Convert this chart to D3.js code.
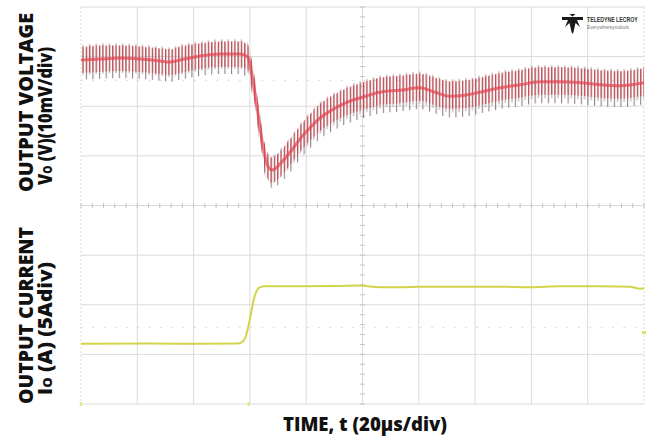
<!DOCTYPE html>
<html><head><meta charset="utf-8">
<script src="https://cdn.jsdelivr.net/npm/d3@7"></script>
<style>html,body{margin:0;padding:0;background:#fff;}svg{display:block;}</style>
</head><body>
<script>
// ---- data (read from the scope shot) ----
// time in µs (20 µs/div, trigger at centre), voltage deviation in mV (10 mV/div), current in A (5 A/div)
const timeV = [-100,-93.3,-86.1,-79.0,-71.9,-68.4,-64.8,-57.7,-50.6,-43.5,-40.7,-39.3,-37.8,-36.4,-35.0,-33.6,-32.1,-30.0,-27.5,-25.0,-22.2,-18.7,-15.1,-11.5,-6.2,0,6.2,13.3,20.4,25.8,31.1,36.4,41.7,48.8,55.9,63.0,70.2,77.3,84.4,91.5,100];
const vMid  = [-0.4,-0.2,0.0,-0.2,-0.6,-0.8,-0.4,0.4,0.8,0.8,0.2,-3.4,-8.5,-14.1,-19.0,-21.8,-22.6,-21.8,-20.2,-18.5,-16.3,-14.1,-12.1,-10.7,-9.1,-7.9,-6.9,-6.5,-6.0,-6.9,-7.7,-7.5,-6.9,-6.0,-5.4,-4.8,-4.8,-5.0,-5.4,-5.6,-5.0];
const vTop  = [2.6,3.0,3.0,2.8,2.4,2.2,2.8,3.4,3.8,3.8,3.0,0.0,-5.5,-11.2,-16.2,-19.0,-19.6,-18.8,-17.2,-15.4,-13.2,-10.9,-8.8,-7.4,-5.8,-4.5,-3.5,-3.1,-2.7,-3.5,-4.3,-4.1,-3.5,-2.6,-2.0,-1.4,-1.4,-1.6,-2.0,-2.2,-1.6];
const vBot  = [-4.4,-4.2,-4.0,-4.2,-4.6,-4.8,-4.4,-3.6,-3.2,-3.2,-4.0,-7.0,-12.0,-17.8,-22.8,-25.6,-26.2,-25.6,-24.2,-22.6,-20.4,-18.3,-16.3,-15.0,-13.4,-12.2,-11.2,-10.8,-10.3,-11.2,-12.0,-11.8,-11.2,-10.3,-9.7,-9.1,-9.1,-9.3,-9.7,-9.9,-9.3];
const timeI = [-100,-75.5,-57.7,-44.2,-42.8,-41.7,-40.7,-39.6,-38.5,-37.5,-36.4,-34.6,-22.2,-8.0,-0.9,6.2,13.3,20.4,34.6,48.8,59.5,70.2,84.4,95.0,98.6,100];
const iOut  = [-0.02,0,-0.03,0,0.13,0.54,1.54,3.04,4.55,5.36,5.67,5.77,5.77,5.80,5.83,5.67,5.67,5.72,5.72,5.72,5.67,5.77,5.77,5.72,5.52,5.57];
const xDivs = d3.range(-5, 6);          // 10 horizontal divisions
const yDivs = d3.range(-4, 5);          // 8 vertical divisions
const vLabel1 = "OUTPUT VOLTAGE", iLabel1 = "OUTPUT CURRENT", xLabel = "TIME, t (20µs/div)";

// ---- layout ----
const W = 650, H = 439;
const L = 81, R = 644, T = 7, B = 404;
const svg = d3.select("body").append("svg").attr("width", W).attr("height", H);
svg.append("rect").attr("width", W).attr("height", H).attr("fill", "#fff");

const x = d3.scaleLinear().domain([-100, 100]).range([L, R]);
const yDiv = d3.scaleLinear().domain([-4, 4]).range([B, T]);
const yV = d3.scaleLinear().domain([-69.8, 10.3]).range([B, T]);
const yI = d3.scaleLinear().domain([-6.1, 33.9]).range([B, T]);

const defs = svg.append("defs");
function hatch(id, w, off, lw, col) {
  const p = defs.append("pattern").attr("id", id).attr("patternUnits", "userSpaceOnUse")
    .attr("width", w).attr("height", 8);
  p.append("rect").attr("x", off).attr("width", lw).attr("height", 8).attr("fill", col);
}
hatch("spkOuter", 6.6, 0, 1.1, "#75646a");
hatch("spkOuter2", 6.6, 3.3, 1.0, "#8e7a80");
hatch("spkMid", 3.3, 0, 1.2, "#c8464f");
defs.append("filter").attr("id", "blur").append("feGaussianBlur").attr("stdDeviation", 0.5);

// ---- grid ----
const g = svg.append("g");
g.selectAll(".vx").data(xDivs).join("line")
  .attr("x1", d => x(d * 20)).attr("x2", d => x(d * 20)).attr("y1", T).attr("y2", B)
  .attr("stroke", "#dadada").attr("stroke-width", 1)
  .attr("stroke-dasharray", d => (Math.abs(d) === 5 ? "2,2" : null));
g.selectAll(".hy").data(yDivs).join("line")
  .attr("y1", d => yDiv(d)).attr("y2", d => yDiv(d)).attr("x1", L).attr("x2", R)
  .attr("stroke", "#dadada").attr("stroke-width", 1);
const minorX = d3.range(-100, 100.1, 4);
g.selectAll(".mx").data(minorX).join("line")
  .attr("x1", d => x(d)).attr("x2", d => x(d)).attr("y1", yDiv(0) - 2.5).attr("y2", yDiv(0) + 2.5)
  .attr("stroke", "#c4c4c4");
const minorY = d3.range(-4, 4.01, 0.2);
g.selectAll(".my").data(minorY).join("line")
  .attr("y1", d => yDiv(d)).attr("y2", d => yDiv(d)).attr("x1", x(0) - 2.5).attr("x2", x(0) + 2.5)
  .attr("stroke", "#c4c4c4");
[2.52, -2.46].forEach(dv => {
  g.append("line").attr("x1", L).attr("x2", R).attr("y1", yDiv(dv)).attr("y2", yDiv(dv))
    .attr("stroke", "#d6d6d6").attr("stroke-width", 1.2).attr("stroke-dasharray", "1.5,9.8");
});

// ---- voltage trace ----
const idx = d3.range(timeV.length);
const tr = svg.append("g").attr("filter", "url(#blur)");
const band = (lo, hi) => d3.area().x(i => x(timeV[i])).y0(i => yV(lo(i))).y1(i => yV(hi(i))).curve(d3.curveMonotoneX);
tr.append("path").datum(idx).attr("d", band(i => vBot[i], i => vTop[i] - 0.6))
  .attr("fill", "url(#spkOuter)").attr("opacity", 0.8);
tr.append("path").datum(idx).attr("d", band(i => vBot[i] + 1.0, i => vTop[i]))
  .attr("fill", "url(#spkOuter2)").attr("opacity", 0.7);
tr.append("path").datum(idx).attr("d", band(i => vMid[i] - 2.6, i => vTop[i] - 0.4))
  .attr("fill", "url(#spkMid)").attr("opacity", 0.9);
tr.append("path").datum(idx)
  .attr("d", d3.line().x(i => x(timeV[i])).y(i => yV(vMid[i])).curve(d3.curveMonotoneX))
  .attr("fill", "none").attr("stroke", "#e2424e").attr("stroke-width", 3).attr("opacity", 0.7);

// ---- current trace ----
svg.append("path").datum(d3.range(timeI.length))
  .attr("d", d3.line().x(i => x(timeI[i])).y(i => yI(iOut[i])).curve(d3.curveMonotoneX))
  .attr("fill", "none").attr("stroke", "#d4d44c").attr("stroke-width", 2).attr("filter", "url(#blur)");
svg.append("line").attr("x1", R - 2).attr("x2", R + 2).attr("y1", yDiv(-2.56)).attr("y2", yDiv(-2.56))
  .attr("stroke", "#e0e070").attr("stroke-width", 3);
[x(-100), x(-40.4)].forEach(px => svg.append("line").attr("x1", px).attr("x2", px)
  .attr("y1", B - 2).attr("y2", B + 2).attr("stroke", "#e6e690").attr("stroke-width", 2.5));

// ---- logo ----
const logo = svg.append("g").attr("transform", "translate(562,15)");
logo.append("path").attr("d", "M0,2 L21,2 L21,5 L15,5 L18,12 L13.5,8 L11.5,17 L10.5,19 L9.5,17 L7.5,8 L3,12 L6,5 L0,5 Z M7.5,-1 L13.5,-1 L10.5,1.5 Z")
  .attr("fill", "#1a1a1a");
logo.append("text").attr("transform", "translate(25,7) scale(1,1.3)")
  .attr("font-family", "'Liberation Sans', sans-serif")
  .attr("font-size", 5.2).attr("font-weight", 700).attr("fill", "#333")
  .text("TELEDYNE LECROY");
logo.append("text").attr("transform", "translate(25,14) scale(1,1.2)")
  .attr("font-family", "'Liberation Sans', sans-serif")
  .attr("font-size", 4.8).attr("fill", "#777")
  .text("Everywhereyoulook");

// ---- labels ----
const FF = "'Open Sans', 'DejaVu Sans', sans-serif";
function rot(cx, cy, len, build) {
  const t = svg.append("text").attr("transform", `translate(${cx},${cy}) rotate(-90)`)
    .attr("text-anchor", "middle").attr("font-family", FF).attr("font-weight", 800)
    .attr("font-size", 19).attr("fill", "#111")
    .attr("textLength", len).attr("lengthAdjust", "spacingAndGlyphs");
  build(t);
}
rot(33, 102.5, 179, t => t.text(vLabel1));
rot(52, 116, 138, t => { t.append("tspan").text("V"); t.append("tspan").attr("font-size", 12).text("O"); t.append("tspan").text(" (V)(10mV/div)"); });
rot(33, 315.5, 177, t => t.text(iLabel1));
rot(52, 328.5, 133, t => { t.append("tspan").text("I"); t.append("tspan").attr("font-size", 12).text("O"); t.append("tspan").text(" (A) (5Adiv)"); });
svg.append("text").attr("x", 365).attr("y", 431).attr("text-anchor", "middle")
  .attr("font-family", FF).attr("font-weight", 800).attr("font-size", 19).attr("fill", "#111")
  .attr("textLength", 164).attr("lengthAdjust", "spacingAndGlyphs").text(xLabel);
</script>
</body></html>
